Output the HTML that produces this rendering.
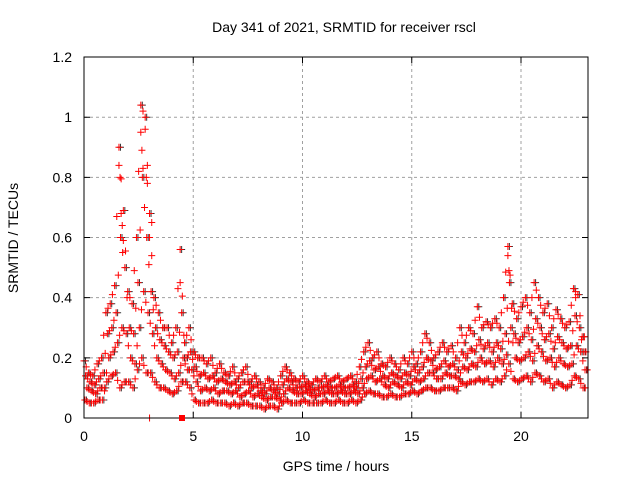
<!DOCTYPE html>
<html><head><meta charset="utf-8"><style>
body{margin:0;background:#fff}
svg text{font-family:"Liberation Sans",sans-serif;font-size:14px;fill:#000}
</style></head><body>
<svg id="chart" width="640" height="480" xmlns="http://www.w3.org/2000/svg">
<rect width="640" height="480" fill="#fff"/>
<g id="grid"></g>
<g id="marks"></g>
<rect x="84" y="57" width="504" height="361" fill="none" stroke="#000" stroke-width="1"/>
<rect x="179" y="415" width="6" height="6" fill="#ff0000"/>
<g id="ticks"></g>
<text x="344" y="32" text-anchor="middle">Day 341 of 2021, SRMTID for receiver rscl</text>
<text x="336" y="471" text-anchor="middle">GPS time / hours</text>
<text transform="translate(18,238) rotate(-90)" text-anchor="middle">SRMTID / TECUs</text>
</svg>
<script>
const times=[0,0.2,0.4,0.6,0.8,1,1.2,1.4,1.6,1.8,2,2.2,2.4,2.6,2.8,3,3.2,3.4,3.6,3.8,4,4.2,4.4,4.6,4.8,5,5.2,5.4,5.6,5.8,6,6.2,6.4,6.6,6.8,7,7.2,7.4,7.6,7.8,8,8.2,8.4,8.6,8.8,9,9.2,9.4,9.6,9.8,10,10.2,10.4,10.6,10.8,11,11.2,11.4,11.6,11.8,12,12.2,12.4,12.6,12.8,13,13.2,13.4,13.6,13.8,14,14.2,14.4,14.6,14.8,15,15.2,15.4,15.6,15.8,16,16.2,16.4,16.6,16.8,17,17.2,17.4,17.6,17.8,18,18.2,18.4,18.6,18.8,19,19.2,19.4,19.6,19.8,20,20.2,20.4,20.6,20.8,21,21.2,21.4,21.6,21.8,22,22.2,22.4,22.6,22.8];
const hiVals=[0.19,0.15,0.14,0.18,0.2,0.35,0.38,0.44,0.9,0.69,0.42,0.38,0.6,1.04,1.0,0.68,0.4,0.35,0.3,0.3,0.25,0.3,0.56,0.25,0.3,0.22,0.2,0.2,0.18,0.2,0.15,0.18,0.15,0.14,0.17,0.13,0.15,0.17,0.12,0.14,0.12,0.1,0.13,0.12,0.1,0.14,0.17,0.15,0.13,0.12,0.14,0.12,0.11,0.13,0.12,0.14,0.12,0.13,0.14,0.12,0.13,0.14,0.12,0.17,0.22,0.25,0.2,0.22,0.18,0.17,0.2,0.18,0.16,0.2,0.18,0.22,0.18,0.22,0.28,0.25,0.2,0.22,0.25,0.22,0.24,0.2,0.3,0.25,0.3,0.28,0.37,0.3,0.32,0.3,0.33,0.3,0.4,0.57,0.38,0.33,0.37,0.4,0.35,0.45,0.4,0.35,0.38,0.3,0.36,0.33,0.3,0.32,0.43,0.41,0.27];
const upVals=[0.14,0.12,0.11,0.13,0.15,0.28,0.3,0.35,0.6,0.5,0.3,0.28,0.45,0.8,0.6,0.42,0.3,0.26,0.24,0.22,0.2,0.22,0.35,0.2,0.22,0.17,0.14,0.15,0.13,0.14,0.12,0.13,0.12,0.11,0.12,0.1,0.12,0.12,0.1,0.11,0.09,0.08,0.1,0.09,0.08,0.11,0.13,0.12,0.1,0.1,0.11,0.1,0.09,0.1,0.1,0.11,0.1,0.1,0.11,0.1,0.1,0.11,0.1,0.13,0.17,0.19,0.16,0.17,0.14,0.13,0.15,0.14,0.13,0.15,0.14,0.17,0.15,0.17,0.2,0.19,0.16,0.17,0.19,0.17,0.18,0.16,0.22,0.2,0.23,0.22,0.26,0.23,0.25,0.22,0.25,0.23,0.28,0.45,0.28,0.25,0.27,0.3,0.26,0.33,0.3,0.26,0.28,0.23,0.27,0.25,0.23,0.24,0.34,0.3,0.22];
const midVals=[0.1,0.09,0.08,0.1,0.1,0.2,0.22,0.25,0.3,0.28,0.2,0.18,0.3,0.42,0.35,0.28,0.2,0.18,0.16,0.15,0.13,0.15,0.2,0.16,0.16,0.12,0.09,0.1,0.09,0.1,0.08,0.09,0.09,0.08,0.09,0.07,0.08,0.09,0.07,0.08,0.07,0.06,0.07,0.07,0.06,0.08,0.1,0.09,0.08,0.08,0.09,0.08,0.07,0.08,0.08,0.09,0.08,0.08,0.09,0.08,0.08,0.09,0.08,0.1,0.13,0.14,0.12,0.13,0.11,0.1,0.12,0.11,0.1,0.12,0.11,0.13,0.12,0.13,0.15,0.15,0.13,0.13,0.15,0.14,0.14,0.13,0.17,0.16,0.18,0.17,0.2,0.18,0.19,0.17,0.2,0.18,0.21,0.3,0.2,0.19,0.2,0.22,0.19,0.24,0.22,0.19,0.2,0.17,0.2,0.18,0.17,0.18,0.24,0.22,0.16];
const loVals=[0.06,0.05,0.05,0.06,0.06,0.12,0.14,0.15,0.1,0.12,0.12,0.1,0.16,0.2,0.15,0.15,0.12,0.1,0.1,0.09,0.08,0.09,0.12,0.12,0.1,0.06,0.05,0.05,0.05,0.06,0.05,0.05,0.05,0.04,0.05,0.04,0.05,0.05,0.04,0.04,0.04,0.03,0.04,0.04,0.03,0.05,0.06,0.05,0.05,0.05,0.06,0.05,0.05,0.05,0.05,0.06,0.05,0.05,0.06,0.05,0.05,0.06,0.05,0.06,0.08,0.09,0.08,0.08,0.07,0.07,0.08,0.07,0.07,0.08,0.08,0.09,0.08,0.09,0.1,0.1,0.09,0.09,0.1,0.1,0.1,0.09,0.12,0.11,0.12,0.12,0.13,0.12,0.13,0.11,0.13,0.12,0.14,0.18,0.13,0.12,0.13,0.14,0.12,0.15,0.14,0.12,0.13,0.1,0.12,0.11,0.1,0.11,0.14,0.13,0.1];
const spikeT=[1.6,1.65,1.7,1.75,1.8,2.6,2.65,2.7,2.8,2.85,2.9,3.0,3.1,4.4,19.4,19.45,22.5,3.0];
const spikeV=[0.84,0.8,0.68,0.64,0.59,0.95,0.89,0.83,0.96,0.8,0.78,0.6,0.65,0.45,0.54,0.49,0.4,0.0];
const xTicks=[0,5,10,15,20];
const yTicks=[0,0.2,0.4,0.6,0.8,1,1.2];
const yLabels=["0","0.2","0.4","0.6","0.8","1","1.2"];

const X=t=>84+t*21.85;
const Y=v=>418-v*300.8;
const NS="http://www.w3.org/2000/svg";
function mk(tag,attrs,parent){const e=document.createElementNS(NS,tag);for(const k in attrs)e.setAttribute(k,attrs[k]);parent.appendChild(e);return e;}
const grid=document.getElementById('grid'),marks=document.getElementById('marks'),ticks=document.getElementById('ticks');
xTicks.forEach(t=>{
  if(t>0){const g=mk('line',{x1:X(t),x2:X(t),y1:57,y2:418,stroke:'#a0a0a0','stroke-dasharray':'3,3'},grid);
  
  }
  const tk=mk('path',{d:`M${X(t)},418v-6M${X(t)},57v6`,stroke:'#000'},ticks);
  
  
  const l=mk('text',{x:X(t),y:441,'text-anchor':'middle'},ticks);l.textContent=t;
  
  
});
yTicks.forEach((v,i)=>{
  if(v>0&&v<1.2){const g=mk('line',{x1:84,x2:588,y1:Y(v),y2:Y(v),stroke:'#a0a0a0','stroke-dasharray':'3,3'},grid);
  
  }
  const tk=mk('path',{d:`M84,${Y(v)}h6M588,${Y(v)}h-6`,stroke:'#000'},ticks);
  
  
  const l=mk('text',{x:72,y:Y(v)+5,'text-anchor':'end'},ticks);l.textContent=yLabels[i];
  
  
});
function plus(t,v,col,dx){
  const x=X(t)+dx,y=Y(v);
  const p=mk('path',{d:`M${x-3.5},${y}h7M${x},${y-3.5}v7`,stroke:col,'stroke-width':1},marks);
  
  
}
const series=[hiVals,upVals,midVals,loVals];
const shifts=[0,0.07,0.13,0.04];
series.forEach((arr,si)=>{
  times.forEach((t,i)=>{
    plus(t+shifts[si],arr[i],'#333',1.5);
  });
});
series.forEach((arr,si)=>{
  times.forEach((t,i)=>{
    plus(t+shifts[si],arr[i],'#ff0000',0);
    const nxt=i+1<arr.length?arr[i+1]:arr[i];
    plus(t+shifts[si]+0.1,(arr[i]+nxt)/2,'#ff0000',0);
  });
});
spikeT.forEach((t,i)=>plus(t,spikeV[i],'#ff0000',0));
</script>
</body></html>
